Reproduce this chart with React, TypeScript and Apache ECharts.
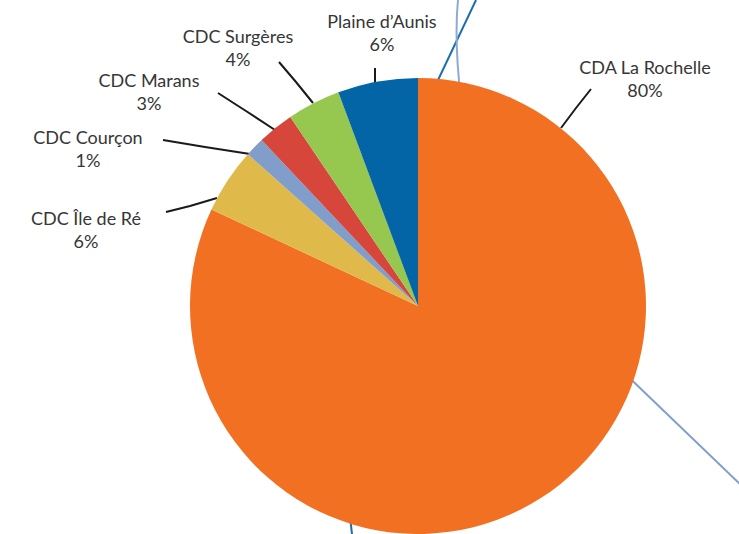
import React, { useEffect, useRef } from "react";
import * as echarts from "echarts";

const NAMES = ["CDA La Rochelle", "CDC Île de Ré", "CDC Courçon", "CDC Marans", "CDC Surgères", "Plaine d’Aunis"];
const VALUES = [81.95, 4.63, 1.38, 2.57, 3.78, 5.68];
const PCT_LABELS = ["80%", "6%", "1%", "3%", "4%", "6%"];
const COLORS = ["#f27022", "#e0b94b", "#819ecb", "#d7463b", "#96c74f", "#0465a6"];

// label placement (layout only)
const LABEL_POS = [
  [645, 78],
  [86, 229],
  [88, 148],
  [149, 91],
  [238, 47.5],
  [382, 32],
];
const LINE_PTS = [
  [[561, 128], [576, 108], [591, 89]],
  [[217, 198], [190, 206], [166, 212]],
  [[250, 154], [205, 147], [163, 140]],
  [[275, 130], [246, 111], [218, 93]],
  [[313, 103], [296, 82], [279, 62]],
  [[375, 83], [375, 75], [375, 68]],
];

export default function App() {
  const ref = useRef<HTMLDivElement>(null);
  useEffect(() => {
    document.body.style.margin = "0";
    const chart = echarts.init(ref.current!, undefined, { renderer: "svg" });
    chart.setOption({
      animation: false,
      backgroundColor: "#ffffff",
      graphic: [
        { type: "line", z: -10, shape: { x1: 476, y1: 0, x2: 420, y2: 118 }, style: { stroke: "#1a6fae", lineWidth: 2 } },
        { type: "line", z: -10, shape: { x1: 348, y1: 500, x2: 352, y2: 534 }, style: { stroke: "#1a6fae", lineWidth: 2 } },
        { type: "bezierCurve", z: -10, shape: { x1: 458, y1: 0, cpx1: 454, cpy1: 40, x2: 461, y2: 100 }, style: { stroke: "#8fa9d6", lineWidth: 2, fill: "none" } },
        { type: "line", z: -10, shape: { x1: 590, y1: 340, x2: 740, y2: 484 }, style: { stroke: "#7f9fcf", lineWidth: 2 } },
      ],
      series: [
        {
          type: "pie",
          center: [418, 306],
          radius: 228,
          startAngle: 90,
          clockwise: true,
          z: 2,
          data: NAMES.map((n, i) => ({ name: n, value: VALUES[i], itemStyle: { color: COLORS[i] } })),
          itemStyle: { borderWidth: 0 },
          label: {
            show: true,
            position: "outside",
            formatter: (p: any) => `${p.name}\n${PCT_LABELS[p.dataIndex]}`,
            fontFamily: "Lato",
            fontSize: 18,
            lineHeight: 23,
            color: "#363636",
            align: "center",
          },
          labelLine: { show: true, lineStyle: { color: "#1a1a1a", width: 2 } },
          labelLayout: (params: any) => {
            const i = params.dataIndex;
            return {
              x: LABEL_POS[i][0],
              y: LABEL_POS[i][1],
              align: "center",
              verticalAlign: "middle",
              labelLinePoints: LINE_PTS[i],
            };
          },
          emphasis: { disabled: true },
        },
      ],
    });
    return () => chart.dispose();
  }, []);
  return <div ref={ref} style={{ position: "fixed", left: 0, top: 0, width: 739, height: 534 }} />;
}
